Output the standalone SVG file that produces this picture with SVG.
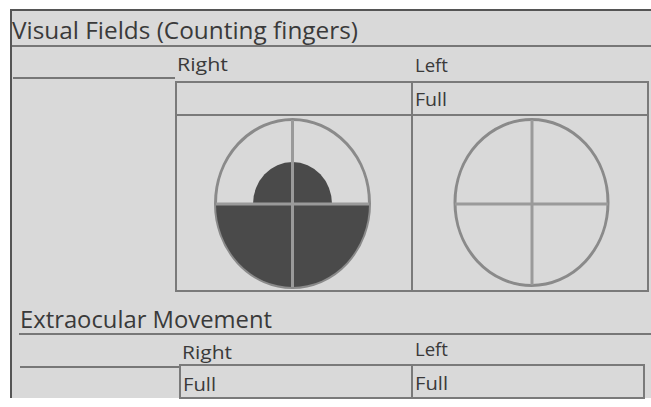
<svg xmlns="http://www.w3.org/2000/svg" width="651" height="407" viewBox="0 0 651 407">
<style>
text{font-family:"Open Sans","Noto Sans","Liberation Sans",sans-serif;fill:#3a3a3a}
.h{font-size:24px}
.l{font-size:19px}
.rule{stroke:#777;stroke-width:2;fill:none}
.tb{stroke:#7a7a7a;stroke-width:2;fill:none}
.ring{stroke:#8a8a8a;stroke-width:3;fill:none}
.cross{stroke:#9a9a9a;stroke-width:3}
.fill{fill:#4a4a4a}
</style>
<rect width="651" height="407" fill="#ffffff"/>
<rect x="10" y="10" width="641" height="388" fill="#d9d9d9"/>
<g id="frame">
<line x1="10" y1="10" x2="651" y2="10" stroke="#555" stroke-width="2"/>
<line x1="11" y1="10" x2="11" y2="398" stroke="#555" stroke-width="2"/>
</g>
<g id="visual-fields">
<text class="h" x="12" y="39" textLength="346" lengthAdjust="spacingAndGlyphs">Visual Fields (Counting fingers)</text>
<line class="rule" x1="12" y1="46" x2="651" y2="46"/>
<text class="l" x="177" y="71" textLength="51" lengthAdjust="spacingAndGlyphs">Right</text>
<text class="l" x="415" y="72" textLength="33" lengthAdjust="spacingAndGlyphs">Left</text>
<line class="rule" x1="13" y1="78" x2="175" y2="78"/>
<rect class="tb" x="176" y="82" width="472" height="209"/>
<line class="tb" x1="176" y1="115" x2="648" y2="115"/>
<line class="tb" x1="412" y1="82" x2="412" y2="291"/>
<text class="l" x="415" y="106" textLength="32" lengthAdjust="spacingAndGlyphs">Full</text>
</g>
<g id="right-field">
<ellipse class="ring" cx="292.5" cy="203.5" rx="77" ry="84"/>
<path class="fill" d="M216 204 A76.5 83 0 0 0 369 204 Z"/>
<path class="fill" d="M253 204 A39.5 42 0 0 1 332 204 Z"/>
<line class="cross" x1="292.5" y1="120" x2="292.5" y2="287"/>
<line class="cross" x1="216" y1="204" x2="369" y2="204"/>
</g>
<g id="left-field">
<ellipse class="ring" cx="531.5" cy="202.5" rx="76.5" ry="83"/>
<line class="cross" x1="532" y1="120" x2="532" y2="285"/>
<line class="cross" x1="455" y1="204" x2="608" y2="204"/>
</g>
<g id="extraocular">
<text class="h" x="20" y="328" textLength="252" lengthAdjust="spacingAndGlyphs">Extraocular Movement</text>
<line class="rule" x1="19" y1="334" x2="651" y2="334"/>
<text class="l" x="182" y="359" textLength="50" lengthAdjust="spacingAndGlyphs">Right</text>
<text class="l" x="415" y="356" textLength="33" lengthAdjust="spacingAndGlyphs">Left</text>
<line class="rule" x1="20" y1="367" x2="180" y2="367"/>
<rect class="tb" x="180" y="365" width="464" height="33"/>
<line class="tb" x1="412" y1="365" x2="412" y2="398"/>
<text class="l" x="183" y="391" textLength="33" lengthAdjust="spacingAndGlyphs">Full</text>
<text class="l" x="415" y="390" textLength="33" lengthAdjust="spacingAndGlyphs">Full</text>
</g>
</svg>
